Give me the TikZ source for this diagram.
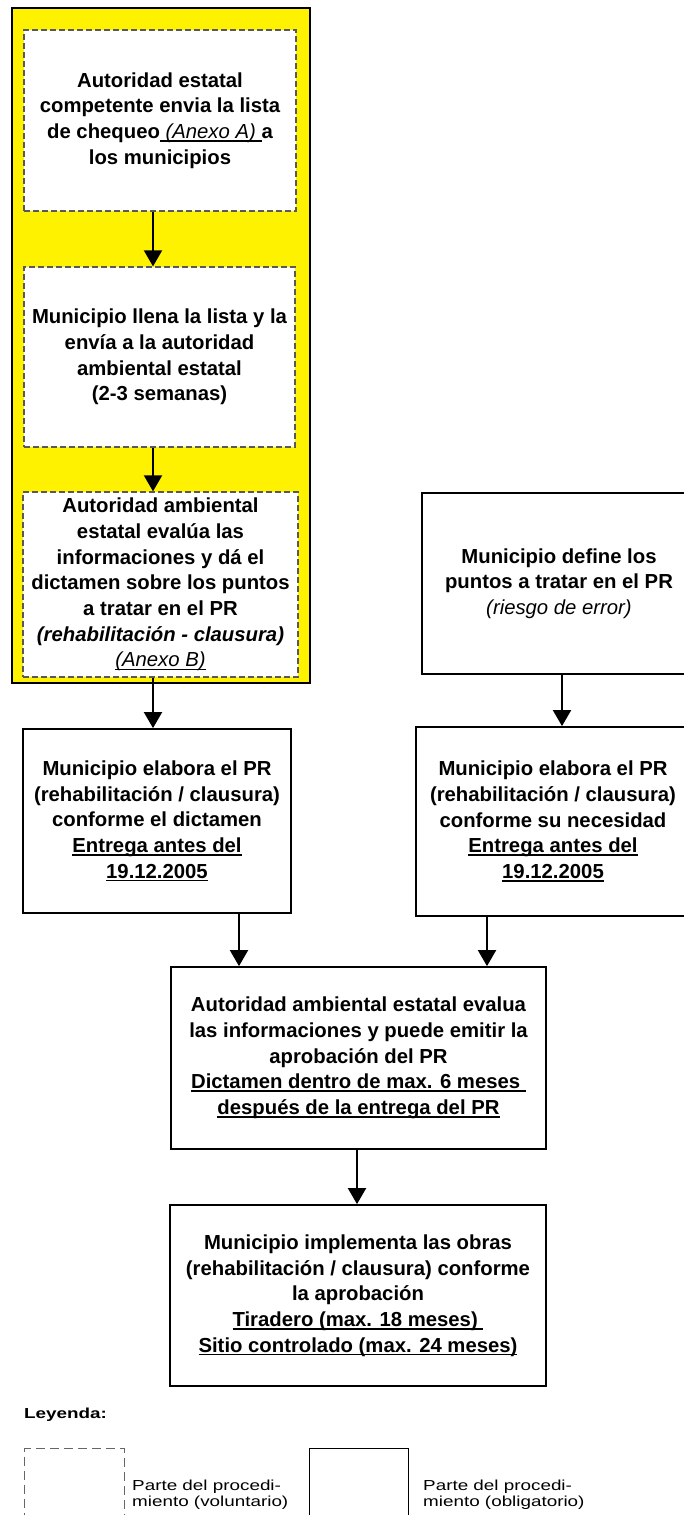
\documentclass[tikz,border=0pt]{standalone}
\usepackage{fontspec}
\setmainfont{Liberation Sans}
\newfontfamily\legfont[FakeStretch=1.3]{Liberation Sans}
\usetikzlibrary{arrows.meta}
\newcommand\myul[2][1.8pt]{\setbox0\hbox{#2}\leavevmode\rlap{\rule[-3.2pt]{\wd0}{#1}}\box0}
\newcommand\boxfnt{\bfseries\fontsize{20.3pt}{25.7pt}\selectfont}
\newcommand\legfnt{\legfont\fontsize{14.5pt}{16.5pt}\selectfont}
\begin{document}
\begin{tikzpicture}[x=1pt,y=-1pt,
  solidbox/.style={draw=black, line width=1.8pt, inner sep=0pt, align=center, font=\boxfnt, fill=white},
  dashbox/.style={draw=black!65, dash pattern=on 6pt off 3pt, line width=1.3pt, inner sep=0pt, align=center, font=\boxfnt, fill=white},
  panelbox/.style={draw=black, line width=1.6pt, fill=yellow, inner sep=0pt},
  arr/.style={line width=2pt, -{Triangle[width=18pt,length=16pt]}},
  legdash/.style={draw=black!60, dash pattern=on 9pt off 5pt, line width=1.2pt, inner sep=0pt},
  legsolid/.style={draw=black, line width=1.2pt, inner sep=0pt},
  legtext/.style={inner sep=0pt, align=left, font=\legfnt}]
\useasboundingbox (0,0) rectangle (684,1515);
\clip (0,0) rectangle (684,1515);
\fill[white] (0,0) rectangle (684,1515);

% column coordinates for connectors
\coordinate (cA) at (153,0);
\coordinate (cB) at (562,0);
\coordinate (cC) at (239,0);
\coordinate (cD) at (487,0);
\coordinate (cE) at (357,0);

% yellow panel
\node[panelbox, minimum width=298pt, minimum height=675pt] (panel) at (161,345.5) {};

\node[dashbox, minimum width=272pt, minimum height=181pt] (b1) at (160,120.5)
  {Autoridad estatal\\competente envia la lista\\de chequeo\myul[1.6pt]{\mdseries\itshape\ (Anexo A)\ }a\\los municipios};
\node[dashbox, minimum width=271pt, minimum height=180pt] (b2) at (159.5,357)
  {Municipio llena la lista y la\\envía a la autoridad\\ambiental estatal\\(2-3 semanas)};
\node[dashbox, minimum width=275pt, minimum height=185pt] (b3) at (160.5,584.5)
  {Autoridad ambiental\\estatal evalúa las\\informaciones y dá el\\dictamen sobre los puntos\\a tratar en el PR\\\textit{(rehabilitación - clausura)}\\\myul[1.4pt]{\mdseries\itshape (Anexo B)}};

\node[solidbox, minimum width=274pt, minimum height=181pt] (bdef) at (559,583.5)
  {Municipio define los\\puntos a tratar en el PR\\{\mdseries\itshape (riesgo de error)}};

\node[solidbox, minimum width=268pt, minimum height=184pt] (b4) at (157,821)
  {Municipio elabora el PR\\(rehabilitación / clausura)\\conforme el dictamen\\\myul{Entrega antes del}\\\myul{19.12.2005}};
\node[solidbox, minimum width=274pt, minimum height=189pt] (b5) at (553,821.5)
  {Municipio elabora el PR\\(rehabilitación / clausura)\\conforme su necesidad\\\myul{Entrega antes del}\\\myul{19.12.2005}};

\node[solidbox, minimum width=375pt, minimum height=182pt] (b6) at (358.5,1058)
  {Autoridad ambiental estatal evalua\\las informaciones y puede emitir la\\aprobación del PR\\\myul{Dictamen dentro de max. 6 meses\ }\\\myul{después de la entrega del PR}};
\node[solidbox, minimum width=376pt, minimum height=181pt] (b7) at (358,1295.5)
  {Municipio implementa las obras\\(rehabilitación / clausura) conforme\\la aprobación\\\myul{Tiradero (max. 18 meses)\ }\\\myul{Sitio controlado (max. 24 meses)}};

% connectors
\draw[arr] (b1.south -| cA) -- (b2.north -| cA);
\draw[arr] (b2.south -| cA) -- (b3.north -| cA);
\draw[arr] (b3.south -| cA) -- (b4.north -| cA);
\draw[arr] (bdef.south -| cB) -- (b5.north -| cB);
\draw[arr] (b4.south -| cC) -- (b6.north -| cC);
\draw[arr] (b5.south -| cD) -- (b6.north -| cD);
\draw[arr] (b6.south -| cE) -- (b7.north -| cE);

% legend
\node[anchor=west, inner sep=0pt, font=\legfont\bfseries\fontsize{14.5pt}{16.5pt}\selectfont] (ley) at (24,1415) {Leyenda:};
\node[legdash, minimum width=100pt, minimum height=100pt, anchor=north west] (lvol) at (24,1448) {};
\node[legsolid, minimum width=99pt, minimum height=100pt, anchor=north west] (lobl) at (309,1448) {};
\node[legtext, anchor=north west] (tvol) at (132,1479.5) {Parte del procedi-\\miento (voluntario)};
\node[legtext, anchor=north west] (tobl) at (423,1479.5) {Parte del procedi-\\miento (obligatorio)};
\end{tikzpicture}
\end{document}
